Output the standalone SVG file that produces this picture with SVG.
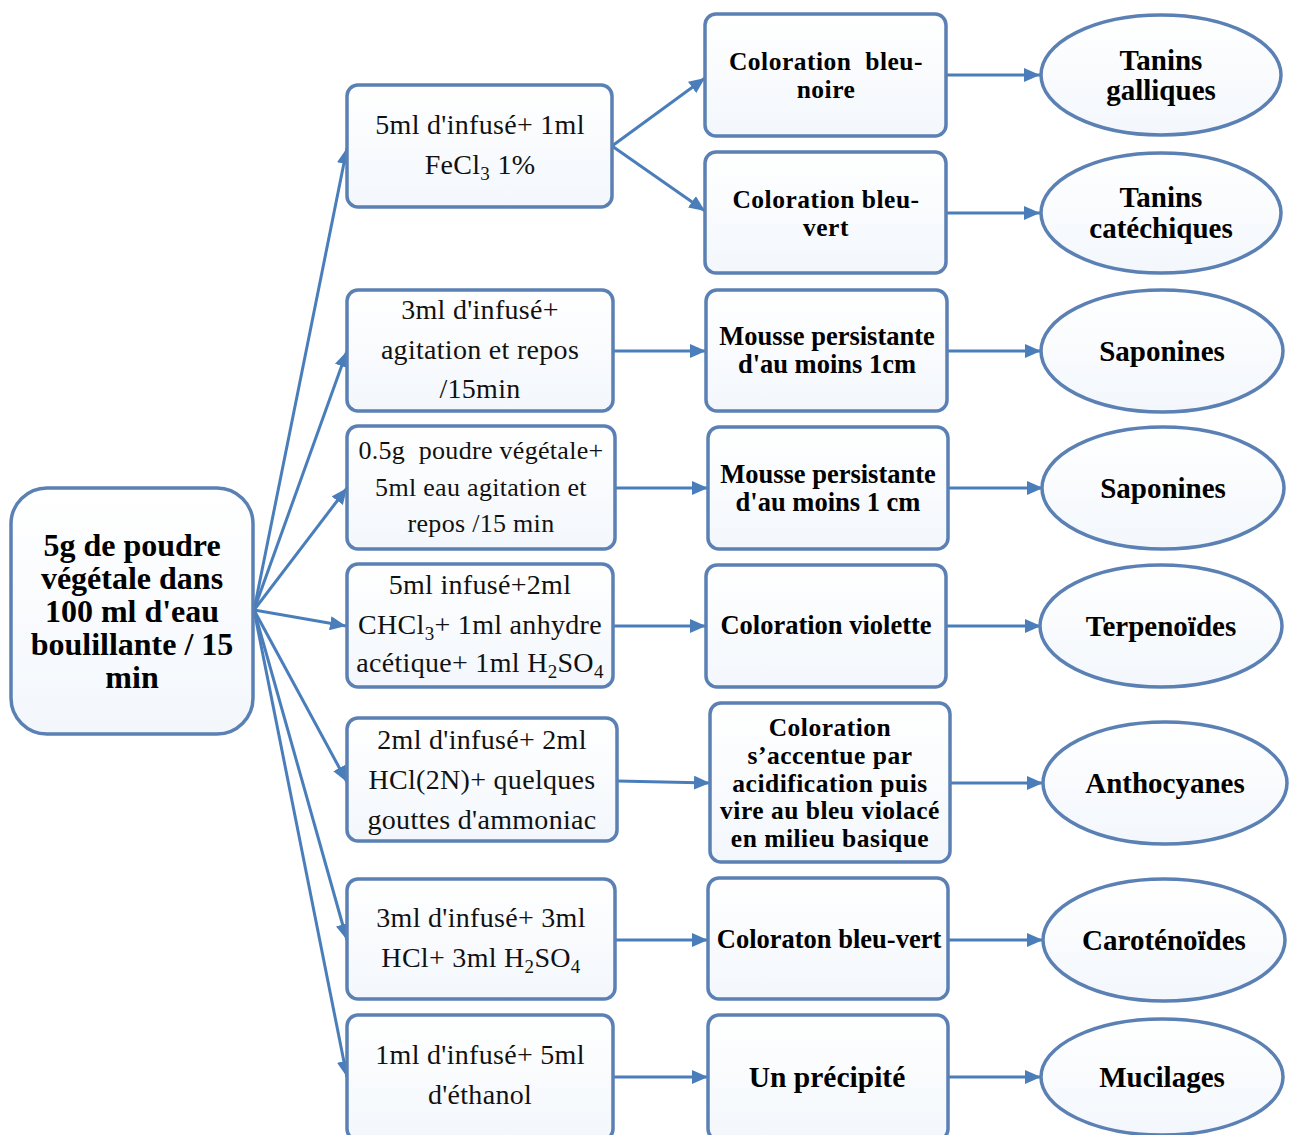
<svg xmlns="http://www.w3.org/2000/svg" width="1296" height="1135" viewBox="0 0 1296 1135">
<style>
.box{fill:url(#g);stroke:#5b80b4;stroke-width:3.5}
.ell{fill:url(#g);stroke:#5b80b4;stroke-width:3.5}
.c{stroke:#4a7ebb;stroke-width:3;fill:none;marker-end:url(#ah)}
.t2{font-family:"Liberation Serif",serif;font-size:28px;letter-spacing:0.3px;fill:#111;text-anchor:middle}
.t2 .sb{font-size:19px}
.t3{font-family:"Liberation Serif",serif;font-weight:bold;font-size:25.5px;letter-spacing:0.5px;fill:#000;text-anchor:middle}
.t3.s{font-size:26.5px;letter-spacing:0}
.t3.big{font-size:29.5px;letter-spacing:0}
.t2.sm{font-size:26px}
.t4{font-family:"Liberation Serif",serif;font-weight:bold;font-size:29px;fill:#000;text-anchor:middle}
.t1{font-family:"Liberation Serif",serif;font-weight:bold;font-size:32px;fill:#000;text-anchor:middle}
</style>
<defs>
<linearGradient id="g" x1="0" y1="0" x2="0" y2="1"><stop offset="0" stop-color="#ffffff"/><stop offset="1" stop-color="#f3f7fc"/></linearGradient>
<marker id="ah" markerUnits="userSpaceOnUse" markerWidth="16" markerHeight="14" refX="16" refY="7" orient="auto"><path d="M0,0 L16,7 L0,14 z" fill="#4a7ebb"/></marker>
</defs>
<rect width="1296" height="1135" fill="#fff"/>
<g id="connectors">
<line class="c" x1="254" y1="610" x2="347" y2="148"/>
<line class="c" x1="254" y1="610" x2="347" y2="351"/>
<line class="c" x1="254" y1="610" x2="347" y2="488"/>
<line class="c" x1="254" y1="610" x2="346" y2="626"/>
<line class="c" x1="254" y1="610" x2="347" y2="782"/>
<line class="c" x1="254" y1="610" x2="347" y2="940"/>
<line class="c" x1="254" y1="610" x2="347" y2="1077"/>
<line class="c" x1="612" y1="146" x2="705" y2="78"/>
<line class="c" x1="612" y1="146" x2="705" y2="211"/>
<line class="c" x1="613" y1="351" x2="706" y2="351"/>
<line class="c" x1="615" y1="488" x2="708" y2="488"/>
<line class="c" x1="613" y1="626" x2="706" y2="626"/>
<line class="c" x1="617" y1="781" x2="710" y2="783"/>
<line class="c" x1="615" y1="940" x2="708" y2="940"/>
<line class="c" x1="613" y1="1077" x2="708" y2="1077"/>
<line class="c" x1="946" y1="75" x2="1040" y2="75"/>
<line class="c" x1="946" y1="213" x2="1040" y2="213"/>
<line class="c" x1="947" y1="351" x2="1041" y2="351"/>
<line class="c" x1="948" y1="488" x2="1043" y2="488"/>
<line class="c" x1="946" y1="626" x2="1041" y2="626"/>
<line class="c" x1="950" y1="783" x2="1043" y2="783"/>
<line class="c" x1="948" y1="940" x2="1043" y2="940"/>
<line class="c" x1="948" y1="1077" x2="1041" y2="1077"/>
</g>
<g id="root">
<rect class="box" x="11" y="488" width="242" height="246" rx="36"/>
<text class="t1" x="132" y="556">5g de poudre</text>
<text class="t1" x="132" y="589">végétale dans</text>
<text class="t1" x="132" y="622">100 ml d'eau</text>
<text class="t1" x="132" y="655">boulillante / 15</text>
<text class="t1" x="132" y="688">min</text>
</g>
<g id="p1">
<rect class="box" x="347" y="85" width="265" height="122" rx="11"/>
<text class="t2" x="480" y="134">5ml d'infusé+ 1ml</text>
<text class="t2" x="480" y="174">FeCl<tspan class="sb" dy="6">3</tspan><tspan dy="-6"> 1%</tspan></text>
</g>
<g id="p2">
<rect class="box" x="347" y="290" width="266" height="121" rx="11"/>
<text class="t2" x="480" y="319">3ml d'infusé+</text>
<text class="t2" x="480" y="359">agitation et repos</text>
<text class="t2" x="480" y="398">/15min</text>
</g>
<g id="p3">
<rect class="box" x="347" y="426" width="268" height="123" rx="11"/>
<text class="t2 sm" x="481" y="459">0.5g&#160; poudre végétale+</text>
<text class="t2 sm" x="481" y="496">5ml eau agitation et</text>
<text class="t2 sm" x="481" y="532">repos /15 min</text>
</g>
<g id="p4">
<rect class="box" x="347" y="564" width="266" height="123" rx="11"/>
<text class="t2" x="480" y="594">5ml infusé+2ml</text>
<text class="t2" x="480" y="634">CHCl<tspan class="sb" dy="6">3</tspan><tspan dy="-6">+ 1ml anhydre</tspan></text>
<text class="t2" x="480" y="672">acétique+ 1ml H<tspan class="sb" dy="6">2</tspan><tspan dy="-6">SO</tspan><tspan class="sb" dy="6">4</tspan></text>
</g>
<g id="p5">
<rect class="box" x="347" y="718" width="270" height="123" rx="11"/>
<text class="t2" x="482" y="749">2ml d'infusé+ 2ml</text>
<text class="t2" x="482" y="789">HCl(2N)+ quelques</text>
<text class="t2" x="482" y="829">gouttes d'ammoniac</text>
</g>
<g id="p6">
<rect class="box" x="347" y="879" width="268" height="120" rx="11"/>
<text class="t2" x="481" y="927">3ml d'infusé+ 3ml</text>
<text class="t2" x="481" y="967">HCl+ 3ml H<tspan class="sb" dy="6">2</tspan><tspan dy="-6">SO</tspan><tspan class="sb" dy="6">4</tspan></text>
</g>
<g id="p7">
<rect class="box" x="347" y="1015" width="266" height="125" rx="11"/>
<text class="t2" x="480" y="1064">1ml d'infusé+ 5ml</text>
<text class="t2" x="480" y="1104">d'éthanol</text>
</g>
<g id="r1">
<rect class="box" x="705" y="14" width="241" height="122" rx="11"/>
<text class="t3" x="826" y="70">Coloration&#160; bleu-</text>
<text class="t3" x="826" y="98">noire</text>
</g>
<g id="r2">
<rect class="box" x="705" y="152" width="241" height="121" rx="11"/>
<text class="t3" x="826" y="208">Coloration bleu-</text>
<text class="t3" x="826" y="236">vert</text>
</g>
<g id="r3">
<rect class="box" x="706" y="290" width="241" height="121" rx="11"/>
<text class="t3 s" x="827" y="345">Mousse persistante</text>
<text class="t3 s" x="827" y="373">d'au moins 1cm</text>
</g>
<g id="r4">
<rect class="box" x="708" y="427" width="240" height="122" rx="11"/>
<text class="t3 s" x="828" y="483">Mousse persistante</text>
<text class="t3 s" x="828" y="511">d'au moins 1 cm</text>
</g>
<g id="r5">
<rect class="box" x="706" y="565" width="240" height="122" rx="11"/>
<text class="t3 s" x="826" y="634">Coloration violette</text>
</g>
<g id="r6">
<rect class="box" x="710" y="703" width="240" height="159" rx="11"/>
<text class="t3" x="830" y="736">Coloration</text>
<text class="t3" x="830" y="764">s’accentue par</text>
<text class="t3" x="830" y="792">acidification puis</text>
<text class="t3" x="830" y="819">vire au bleu violacé</text>
<text class="t3" x="830" y="847">en milieu basique</text>
</g>
<g id="r7">
<rect class="box" x="708" y="878" width="240" height="121" rx="11"/>
<text class="t3 s" x="829" y="948">Coloraton bleu-vert</text>
</g>
<g id="r8">
<rect class="box" x="708" y="1015" width="240" height="125" rx="11"/>
<text class="t3 big" x="827" y="1087">Un précipité</text>
</g>
<g id="e1">
<ellipse class="ell" cx="1161" cy="75" rx="120" ry="60"/>
<text class="t4" x="1161" y="70">Tanins</text>
<text class="t4" x="1161" y="100">galliques</text>
</g>
<g id="e2">
<ellipse class="ell" cx="1161" cy="213" rx="120" ry="60"/>
<text class="t4" x="1161" y="207">Tanins</text>
<text class="t4" x="1161" y="238">catéchiques</text>
</g>
<g id="e3">
<ellipse class="ell" cx="1162" cy="351" rx="121" ry="61"/>
<text class="t4" x="1162" y="361">Saponines</text>
</g>
<g id="e4">
<ellipse class="ell" cx="1163" cy="488" rx="121" ry="61"/>
<text class="t4" x="1163" y="498">Saponines</text>
</g>
<g id="e5">
<ellipse class="ell" cx="1161" cy="626" rx="121" ry="61"/>
<text class="t4" x="1161" y="636">Terpenoïdes</text>
</g>
<g id="e6">
<ellipse class="ell" cx="1165" cy="783" rx="122" ry="61"/>
<text class="t4" x="1165" y="793">Anthocyanes</text>
</g>
<g id="e7">
<ellipse class="ell" cx="1164" cy="940" rx="121" ry="61"/>
<text class="t4" x="1164" y="950">Caroténoïdes</text>
</g>
<g id="e8">
<ellipse class="ell" cx="1162" cy="1077" rx="121" ry="58"/>
<text class="t4" x="1162" y="1087">Mucilages</text>
</g>
</svg>
